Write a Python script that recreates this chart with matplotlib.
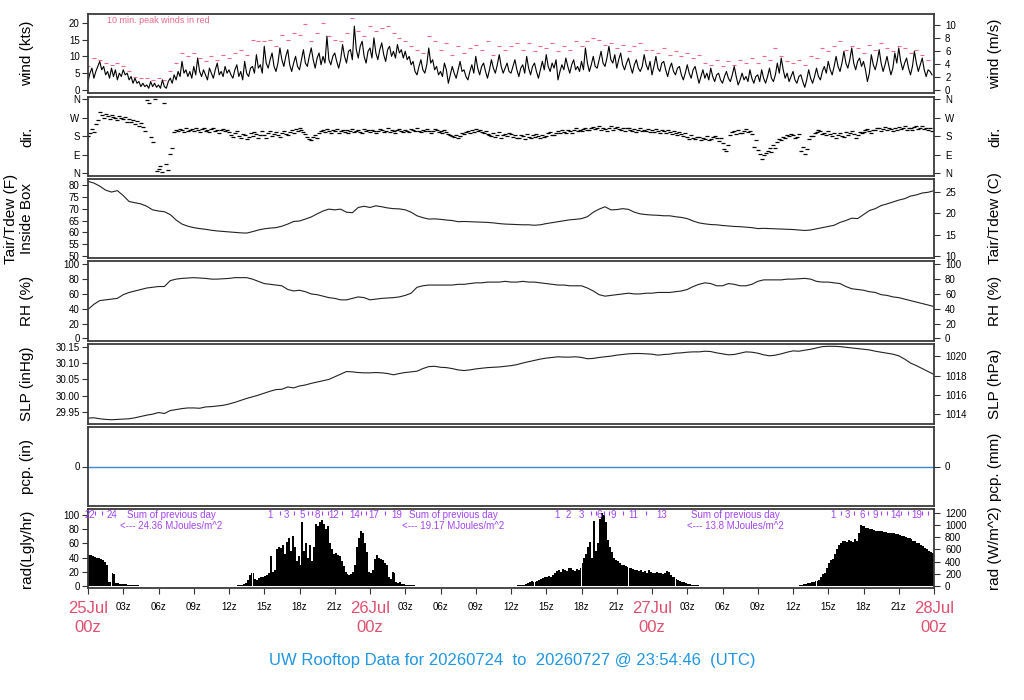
import numpy as np
import matplotlib
matplotlib.use('Agg')
import matplotlib.pyplot as plt

plt.rcParams['font.family'] = ['Liberation Sans', 'DejaVu Sans']

# ---------------- data (hours since 25 Jul 00z) ----------------
wind_step_h = 1.0 / 6.0
wind_kts = [
    2.5, 5.0, 6.5, 3.5, 5.5, 7.0, 8.5, 6.0, 7.0, 4.5, 5.5, 3.5, 6.5, 4.0, 6.0, 3.0, 5.0, 4.0,
    6.0, 4.5, 5.0, 3.0, 4.0, 2.0, 3.5, 2.0, 2.5, 1.0, 2.0, 1.0, 1.5, 0.5, 2.5, 1.0, 2.0, 0.8,
    1.5, 0.5, 3.0, 1.0, 0.5, 2.5, 3.5, 2.0, 4.5, 3.0, 5.5, 4.0, 8.5, 5.0, 6.0, 4.0, 5.5, 3.5,
    7.0, 4.5, 9.5, 5.5, 4.0, 6.0, 4.5, 3.0, 6.5, 5.0, 3.5, 6.0, 8.0, 4.5, 5.5, 4.0, 7.0, 5.0,
    6.0, 4.5, 3.5, 6.0, 7.5, 4.0, 5.5, 3.0, 8.5, 5.0, 4.0, 6.5, 7.0, 5.0, 10.5, 6.5, 7.5, 5.0,
    13.0, 8.0, 6.5, 9.0, 11.0, 7.0, 5.5, 8.0, 12.5, 9.0, 7.0, 10.0, 12.0, 7.5, 5.5, 8.0, 10.0, 7.0,
    6.0, 9.0, 12.0, 8.0, 7.0, 10.0, 12.5, 9.0, 6.5, 9.5, 11.0, 7.5, 10.0, 8.0, 16.0, 9.0, 7.5, 10.0,
    11.0, 8.5, 6.5, 9.0, 13.5, 10.0, 8.0, 11.5, 12.0, 9.0, 19.0, 12.0, 9.5, 13.0, 14.5, 10.0, 8.0, 11.5,
    12.5, 9.5, 15.5, 11.0, 9.0, 12.0, 14.0, 10.5, 8.5, 12.0, 13.0, 10.0, 11.5, 9.5, 13.5, 11.0, 12.0, 9.5,
    11.5, 9.0, 10.0, 7.5, 8.5, 5.5, 4.5, 7.0, 9.0, 6.0, 5.0, 7.5, 12.5, 8.0, 9.0, 6.0, 7.0, 4.5,
    5.5, 4.0, 8.0, 6.0, 2.0, 4.5, 7.0, 5.0, 3.5, 6.0, 8.5, 5.5, 6.0, 4.0, 3.0, 5.5, 7.5, 5.0,
    10.0, 6.5, 4.5, 7.0, 8.0, 5.5, 3.5, 6.0, 9.0, 6.5, 5.0, 7.5, 10.5, 7.0, 5.0, 6.5, 8.0, 5.5,
    5.0, 7.0, 9.0, 6.0, 4.0, 6.5, 7.5, 5.0, 10.0, 6.5, 4.5, 7.0, 8.0, 5.5, 3.5, 6.0, 8.5, 6.0,
    10.5, 7.0, 5.5, 8.0, 6.5, 9.0, 3.0, 5.5, 7.5, 6.0, 9.5, 7.0, 5.0, 7.5, 9.0, 6.0, 7.0, 5.5,
    8.5, 6.0, 12.5, 8.0, 5.5, 7.5, 10.0, 7.0, 6.5, 9.0, 11.5, 8.0, 7.0, 9.5, 13.0, 9.0, 8.0, 10.5,
    6.5, 9.0, 11.0, 7.5, 6.0, 8.0, 9.5, 7.0, 5.0, 7.5, 9.0, 6.5, 5.5, 7.0, 10.5, 7.5, 6.0, 8.5,
    4.5, 7.0, 10.0, 6.5, 5.5, 8.0, 8.5, 6.0, 4.0, 6.5, 8.0, 5.5, 4.5, 6.5, 7.0, 4.5, 3.0, 5.0,
    7.5, 5.0, 3.5, 6.0, 7.0, 4.5, 2.0, 4.0, 6.0, 3.5, 5.0, 3.0, 6.5, 4.0, 2.5, 4.5, 5.0, 3.0,
    2.0, 4.0, 5.5, 3.5, 2.5, 4.5, 7.0, 4.0, 1.5, 3.0, 5.0, 3.0, 4.0, 2.5, 6.0, 3.5, 2.0, 4.0,
    4.5, 2.5, 6.0, 3.5, 2.0, 4.0, 6.5, 3.5, 2.5, 4.5, 8.0, 5.0, 9.5, 6.0, 3.5, 5.0, 2.5, 4.0,
    5.5, 3.0, 2.0, 4.0, 4.5, 2.5, 0.8, 3.0, 6.0, 3.5, 2.0, 4.0, 6.5, 4.0, 3.0, 5.5, 7.0, 5.0,
    8.5, 6.0, 4.5, 7.0, 10.0, 7.0, 5.5, 8.0, 11.5, 8.0, 6.5, 9.0, 12.5, 8.0, 6.0, 8.5, 9.5, 7.0,
    8.5, 6.0, 2.5, 5.0, 10.5, 7.5, 6.0, 8.5, 12.0, 8.0, 5.5, 7.5, 10.0, 7.0, 4.5, 6.5, 11.0, 8.0,
    12.5, 8.5, 6.0, 8.0, 9.5, 6.5, 4.5, 7.0, 11.5, 8.0, 5.5, 7.5, 9.5, 6.0, 4.0, 6.0, 5.5, 4.5,
]

gust_step_h = 0.5
gust_kts = [
    7, 9.5, 9, 8, 7.5, 8,
    7, 5.5, 4, 3.5, 3.5, 3,
    3.5, 3, 5.5, 8, 11, 10,
    11, 9.5, 8.5, 10, 9, 10.5,
    9.5, 11, 12, 10.5, 15, 14.5,
    14.5, 15, 13, 16.5, 15, 17,
    16.5, 19.5, 14.5, 17, 20, 16,
    15, 14.5, 17, 21.5, 17.5, 16,
    19, 17.5, 18.5, 19, 17, 15.5,
    14.5, 13, 12, 11, 16, 14.5,
    12, 14, 10.5, 13, 11, 12.5,
    13.5, 12, 14.5, 10.5, 13, 12,
    13, 14, 12, 14, 11.5, 13,
    12.5, 14, 11.5, 13, 12, 14.5,
    13, 14.5, 15.5, 15, 13.5, 14,
    12.5, 13.5, 11.5, 13, 14, 12,
    12, 11, 12.5, 10.5, 11.5, 10,
    11, 9.5, 10.5, 8, 7.5, 9,
    7, 8.5, 7.5, 9, 8, 9.5,
    8, 10, 9, 12.5, 10, 8.5,
    8, 9, 7.5, 10, 9.5, 12.5,
    11.5, 13, 14.5, 12, 13, 12.5,
    11, 13.5, 12, 14, 12.5, 11.5,
    13, 12.5, 11, 12, 10.5, 9,
]

dir_step_h = 1.0 / 6.0
dir_deg = [
    180, 195, 215, 200, 240, 260, 300, 285, 270, 290, 280, 265, 285, 275, 270, 260, 280, 268,
    262, 275, 250, 265, 248, 258, 240, 255, 230, 245, 225, 205, 355, 340, 175, 150, 360, 10,
    20, 35, 5, 340, 45, 15, 95, 125, 200, 210, 205, 215, 212, 200, 218, 208, 210, 215,
    205, 218, 212, 200, 215, 222, 208, 210, 203, 215, 220, 205, 212, 198, 210, 216, 204, 212,
    200, 185, 175, 195, 205, 180, 170, 190, 185, 165, 175, 195, 180, 200, 190, 172, 185, 205,
    188, 170, 195, 205, 180, 190, 200, 185, 175, 195, 205, 190, 185, 200, 210, 195, 215, 205,
    220, 210, 200, 190, 175, 165, 160, 175, 185, 170, 195, 205, 210, 200, 215, 205, 195, 210,
    208, 215, 198, 205, 212, 200, 210, 195, 205, 215, 200, 208, 212, 202, 198, 215, 205, 210,
    202, 212, 208, 198, 205, 215, 210, 200, 208, 218, 202, 212, 205, 195, 210, 215, 205, 200,
    212, 205, 200, 215, 210, 205, 218, 208, 200, 212, 205, 215, 208, 198, 205, 215, 210, 202,
    205, 195, 210, 200, 192, 185, 180, 175, 188, 170, 180, 195, 190, 200, 205, 195, 210, 200,
    215, 205, 210, 200, 195, 205, 190, 185, 180, 195, 175, 185, 200, 170, 185, 190, 180, 195,
    190, 178, 185, 170, 172, 185, 180, 168, 190, 178, 170, 185, 175, 190, 180, 170, 188, 178,
    182, 195, 200, 188, 185, 195, 205, 195, 210, 200, 195, 212, 205, 198, 210, 220, 205, 212,
    205, 215, 222, 212, 210, 218, 225, 215, 218, 228, 210, 220, 215, 205, 222, 230, 212, 218,
    225, 215, 210, 220, 205, 218, 222, 212, 208, 215, 200, 210, 218, 205, 212, 208, 215, 200,
    210, 200, 215, 205, 195, 212, 205, 198, 210, 200, 190, 205, 195, 185, 200, 190, 180, 195,
    178, 168, 185, 172, 165, 178, 175, 160, 172, 168, 180, 160, 165, 178, 182, 170, 158, 172,
    145, 120, 110, 140, 185, 200, 205, 190, 210, 198, 195, 205, 215, 200, 205, 190, 130, 160,
    115, 95, 70, 90, 100, 110, 125, 105, 140, 125, 150, 165, 160, 175, 170, 185, 180, 190,
    185, 170, 175, 190, 110, 130, 95, 120, 165, 180, 180, 195, 200, 210, 205, 190, 198, 185,
    205, 190, 180, 195, 170, 185, 195, 180, 175, 200, 185, 195, 205, 190, 170, 185, 200, 195,
    200, 210, 215, 205, 195, 212, 210, 222, 218, 205, 215, 225, 210, 220, 215, 205, 222, 212,
    225, 215, 220, 230, 212, 222, 218, 210, 225, 232, 215, 220, 228, 215, 222, 210, 218, 205,
]

halfhour_step_h = 0.5
temp_f = [
    81.5, 80.8, 79.5, 77.8, 77.0, 77.6, 75.5, 73.0, 72.5, 72.0,
    71.0, 69.5, 69.0, 68.7, 67.5, 65.2, 63.5, 62.6, 62.0, 61.6,
    61.3, 60.9, 60.6, 60.4, 60.2, 60.0, 59.8, 59.7, 60.3, 61.0,
    61.5, 61.8, 62.0, 62.6, 63.5, 64.6, 64.8, 65.6, 66.5, 67.8,
    69.0, 69.8, 69.5, 69.8, 68.5, 68.3, 70.5, 71.0, 70.5, 71.2,
    70.8, 70.3, 70.0, 69.9, 69.5, 68.5, 67.0, 66.2, 65.6, 65.7,
    65.5, 65.2, 65.0, 64.5, 64.6, 64.5, 64.4, 64.3, 64.2, 64.0,
    63.7, 63.5, 63.4, 63.3, 63.2, 63.2, 63.0, 63.2, 63.7, 64.1,
    64.5, 64.9, 65.3, 65.5, 65.8, 66.6, 68.5, 69.8, 70.8, 69.5,
    69.6, 70.0, 69.7, 68.5, 67.8, 67.5, 67.3, 67.2, 67.0, 67.0,
    66.6, 66.3, 65.8, 64.8, 64.0, 63.6, 63.3, 63.2, 62.9, 62.7,
    62.5, 62.4, 62.2, 62.0, 61.6, 61.7, 61.6, 61.5, 61.4, 61.3,
    61.2, 61.0, 60.8, 61.0, 61.5, 62.0, 62.5, 63.0, 64.2, 65.0,
    66.0, 65.8, 67.5, 69.2, 70.0, 71.3, 72.0, 72.8, 73.6, 74.2,
    75.3, 75.8, 76.6, 76.9, 77.6,
]
rh_pct = [
    39, 46, 51, 52, 53, 54, 59, 62, 64, 66,
    68, 69, 70, 70, 78, 80, 81, 81.5, 82, 81.5,
    81, 80, 80, 80.5, 81, 82, 82, 82, 80, 77,
    74, 73, 72, 71, 66, 64, 65, 63, 60, 59,
    57, 55, 54, 52, 52, 54, 56, 55, 52, 53,
    54, 54.5, 55, 56, 58, 61, 69, 71, 72, 72,
    72, 72, 72, 73, 73, 74, 75, 75, 76, 76,
    76, 77, 76, 76, 77, 76, 76, 75, 74, 73,
    72, 72, 71, 71, 71, 68, 64, 59, 57, 58,
    59, 60, 61, 60, 60, 61, 61, 62, 62, 62,
    63, 64, 66, 70, 73, 75, 74, 71, 71, 74,
    73, 71, 71, 73, 77, 79, 79, 79, 79, 80,
    80, 80.5, 81, 80, 77, 76, 76, 75, 74, 70,
    67, 66, 65, 63, 62, 59, 58, 56, 55, 53,
    51, 49, 47, 45, 43,
]
slp_inhg = [
    29.932, 29.933, 29.930, 29.928, 29.927, 29.928, 29.929, 29.930, 29.933, 29.937,
    29.941, 29.944, 29.949, 29.946, 29.955, 29.958, 29.961, 29.963, 29.963, 29.962,
    29.966, 29.967, 29.969, 29.971, 29.975, 29.980, 29.986, 29.992, 29.997, 30.002,
    30.008, 30.014, 30.019, 30.020, 30.027, 30.024, 30.030, 30.033, 30.038, 30.042,
    30.046, 30.050, 30.058, 30.066, 30.074, 30.073, 30.071, 30.070, 30.070, 30.071,
    30.070, 30.068, 30.064, 30.068, 30.071, 30.073, 30.075, 30.083, 30.089, 30.090,
    30.087, 30.086, 30.083, 30.079, 30.077, 30.079, 30.082, 30.084, 30.086, 30.087,
    30.088, 30.090, 30.092, 30.095, 30.100, 30.104, 30.108, 30.112, 30.115, 30.117,
    30.119, 30.118, 30.118, 30.119, 30.117, 30.113, 30.114, 30.117, 30.119, 30.121,
    30.124, 30.126, 30.128, 30.129, 30.129, 30.128, 30.127, 30.124, 30.126, 30.127,
    30.130, 30.131, 30.133, 30.134, 30.134, 30.136, 30.135, 30.131, 30.128, 30.125,
    30.126, 30.130, 30.134, 30.133, 30.130, 30.125, 30.122, 30.124, 30.128, 30.133,
    30.137, 30.136, 30.139, 30.142, 30.146, 30.150, 30.151, 30.151, 30.150, 30.148,
    30.146, 30.144, 30.142, 30.140, 30.136, 30.133, 30.130, 30.127, 30.122, 30.112,
    30.100, 30.092, 30.083, 30.074, 30.065,
]
pcp_hours = [0, 72]
pcp_in = [0.0, 0.0]

rad_step_h = 1.0 / 6.0
rad_ly = [
    44, 43, 42, 41, 40, 39, 38, 36, 34, 30, 6, 5, 18, 17, 4, 4, 3, 3,
    3, 2.5, 2, 2, 1.5, 1.2, 1, 0.8, 0.5, 0.3, 0, 0, 0, 0, 0, 0, 0, 0,
    0, 0, 0, 0, 0, 0, 0, 0, 0, 0, 0, 0, 0, 0, 0, 0, 0, 0,
    0, 0, 0, 0, 0, 0, 0, 0, 0, 0, 0, 0, 0, 0, 0, 0, 0, 0,
    0, 0, 0.5, 0.7, 1, 1.5, 2, 3, 4, 8, 16, 18, 19, 10, 9, 11, 12, 13,
    14, 16, 18, 42, 20, 22, 52, 55, 54, 58, 45, 62, 68, 50, 70, 55, 35, 42,
    30, 90, 50, 60, 40, 58, 35, 55, 87, 84, 90, 93, 88, 80, 85, 60, 52, 45,
    46, 44, 42, 35, 28, 20, 17, 16, 17, 20, 30, 55, 68, 78, 75, 60, 48, 20,
    18, 22, 38, 43, 40, 38, 36, 33, 30, 12, 10, 20, 18, 5, 4, 5, 3, 2.5,
    2, 1.5, 1.2, 1, 0.8, 0.5, 0.4, 0, 0, 0, 0, 0, 0, 0, 0, 0, 0, 0,
    0, 0, 0, 0, 0, 0, 0, 0, 0, 0, 0, 0, 0, 0, 0, 0, 0, 0,
    0, 0, 0, 0, 0, 0, 0, 0, 0, 0, 0, 0, 0, 0, 0, 0, 0, 0,
    0, 0, 0.5, 1, 1.5, 2, 2, 3, 4.5, 6, 6.5, 5.5, 6, 7, 8, 10, 11, 12,
    13, 14, 13, 16, 19, 21, 22, 20, 24, 23, 21, 25, 26, 22, 21, 24, 23, 26,
    33, 40, 45, 55, 62, 40, 92, 50, 60, 95, 103, 100, 90, 65, 55, 48, 40, 36,
    35, 33, 30, 29, 28, 27, 25, 26, 24, 23, 22, 21, 22, 20, 21, 19, 22, 20,
    19, 18, 20, 19, 18, 17, 19, 21, 20, 15, 13, 12, 10, 8, 7, 6, 5, 4,
    3, 2.5, 2, 1.5, 1.2, 1, 0.7, 0.5, 0.3, 0, 0, 0, 0, 0, 0, 0, 0, 0,
    0, 0, 0, 0, 0, 0, 0, 0, 0, 0, 0, 0, 0, 0, 0, 0, 0, 0,
    0, 0, 0, 0, 0, 0, 0, 0, 0, 0, 0, 0, 0, 0, 0, 0, 0, 0,
    0, 0, 0.5, 1, 2, 3, 3, 4, 4, 5, 6, 6.5, 7, 9, 12, 17, 18, 25,
    32, 36, 38, 45, 52, 58, 60, 63, 64, 62, 65, 63, 62, 66, 64, 75, 86, 85,
    84, 82, 82, 80, 81, 79, 78, 78, 77, 77, 76, 76, 75, 75, 74, 74, 73, 73,
    72, 71, 70, 69, 68, 67, 66, 64, 63, 61, 60, 58, 56, 54, 52, 50, 48, 46,
]

cum_label_hours = [0.15, 2.0, 15.5, 16.85, 18.2, 19.5, 20.9, 22.7, 24.3, 26.3,
                   39.9, 40.9, 42.0, 43.5, 44.7, 46.4, 48.8,
                   63.4, 64.6, 65.9, 67.0, 68.7, 70.5]
cum_label_text = ['22', '24', '1', '3', '5', '8', '12', '14', '17', '19',
                  '1', '2', '3', '6', '9', '11', '13',
                  '1', '3', '6', '9', '14', '19']
cum_tick_hours = [0.6, 1.2, 16.3, 17.5, 18.7, 19.1, 19.9, 20.4, 21.6, 23.2, 23.7, 25.3,
                  42.8, 43.2, 43.9, 44.3, 45.5, 47.5,
                  64.1, 65.2, 66.4, 67.5, 68.0, 69.2, 69.8, 71.0, 71.5]
sum_hours = [7.1, 31.1, 55.1]
sum_values = ['24.36', '19.17', '13.8']

day_hours = [0, 24, 48, 72]
day_labels = ['25Jul', '26Jul', '27Jul', '28Jul']
hour_ticks = list(range(0, 73, 3))

# ---------------- figure ----------------
W, H = 1024, 700
fig = plt.figure(figsize=(W / 100, H / 100), dpi=100)
left_px, right_px = 88, 934
panels_px = [(14, 93), (97, 176), (179, 258), (261, 341), (344, 424), (427, 506), (509, 588)]

PINK = '#ec6a88'
PURPLE = '#a444f4'
FRAME = '#3a3a3a'

axes = []
for (t, b) in panels_px:
    ax = fig.add_axes([left_px / W, 1 - b / H, (right_px - left_px) / W, (b - t) / H])
    ax.set_xlim(0, 72)
    for s in ax.spines.values():
        s.set_color(FRAME)
        s.set_linewidth(1.3)
    ax.tick_params(axis='y', direction='out', length=4, labelsize=7, pad=2, color='#333333')
    ax.tick_params(axis='x', bottom=False, labelbottom=False)
    axes.append(ax)

def twin(ax):
    a2 = ax.twinx()
    a2.tick_params(axis='y', direction='out', length=4, labelsize=7, pad=4, color='#333333')
    for s in a2.spines.values():
        s.set_visible(False)
    return a2

lx = (27 - left_px) / (right_px - left_px)
rx = (995 - left_px) / (right_px - left_px)
LBL = 11

def left_label(ax, text, x=lx, **kw):
    ax.set_ylabel(text, fontsize=LBL, **kw)
    ax.yaxis.label.set_verticalalignment('center')
    ax.yaxis.set_label_coords(x, 0.5)

def right_label(ax, text):
    ax.set_ylabel(text, fontsize=LBL)
    ax.yaxis.label.set_verticalalignment('center')
    ax.yaxis.set_label_coords(rx, 0.5)

# wind
ax = axes[0]
tw = np.arange(len(wind_kts)) * wind_step_h
tg = np.arange(len(gust_kts)) * gust_step_h
ax.plot(tg, gust_kts, linestyle='none', marker='_', markersize=3.5, mew=0.8, color=PINK)
ax.plot(tw, wind_kts, color='black', lw=0.8)
ax.set_ylim(-0.9, 22.6)
ax.set_yticks([0, 5, 10, 15, 20])
left_label(ax, 'wind (kts)')
ax.text(0.022, 0.92, '10 min. peak winds in red', transform=ax.transAxes, fontsize=6.5,
        color=PINK, ha='left', va='center')
a2 = twin(ax)
a2.set_ylim(-0.9 / 1.94384, 22.6 / 1.94384)
a2.set_yticks([0, 2, 4, 6, 8, 10])
right_label(a2, 'wind (m/s)')

# direction
ax = axes[1]
td = np.arange(len(dir_deg)) * dir_step_h
ax.plot(td, dir_deg, linestyle='none', marker='_', markersize=3.0, mew=0.9, color='black')
ax.set_ylim(-13, 371)
ax.set_yticks([0, 90, 180, 270, 360])
ax.set_yticklabels(['N', 'E', 'S', 'W', 'N'])
left_label(ax, 'dir.')
a2 = twin(ax)
a2.set_ylim(-13, 371)
a2.set_yticks([0, 90, 180, 270, 360])
a2.set_yticklabels(['N', 'E', 'S', 'W', 'N'])
right_label(a2, 'dir.')

# temperature
ax = axes[2]
th = np.arange(len(temp_f)) * halfhour_step_h
ax.plot(th, temp_f, color='#222222', lw=0.8)
ax.set_ylim(49.2, 82.5)
ax.set_yticks([50, 55, 60, 65, 70, 75, 80])
left_label(ax, 'Tair/Tdew (F)\nInside Box', x=(19 - left_px) / (right_px - left_px), linespacing=1.25)
a2 = twin(ax)
a2.set_ylim((49.2 - 32) / 1.8, (82.5 - 32) / 1.8)
a2.set_yticks([10, 15, 20, 25])
right_label(a2, 'Tair/Tdew (C)')

# RH
ax = axes[3]
ax.plot(np.arange(len(rh_pct)) * halfhour_step_h, rh_pct, color='#222222', lw=0.8)
ax.set_ylim(-3.6, 104.5)
ax.set_yticks([0, 20, 40, 60, 80, 100])
left_label(ax, 'RH (%)')
a2 = twin(ax)
a2.set_ylim(-3.6, 104.5)
a2.set_yticks([0, 20, 40, 60, 80, 100])
right_label(a2, 'RH (%)')

# SLP
ax = axes[4]
ax.plot(np.arange(len(slp_inhg)) * halfhour_step_h, slp_inhg, color='#222222', lw=0.8)
ax.set_ylim(29.914, 30.158)
ax.set_yticks([29.95, 30.00, 30.05, 30.10, 30.15])
ax.set_yticklabels(['29.95', '30.00', '30.05', '30.10', '30.15'])
left_label(ax, 'SLP (inHg)')
a2 = twin(ax)
a2.set_ylim(29.914 * 33.8639, 30.158 * 33.8639)
a2.set_yticks([1014, 1016, 1018, 1020])
right_label(a2, 'SLP (hPa)')

# precipitation
ax = axes[5]
ax.plot(pcp_hours, pcp_in, color='#3d85d6', lw=1.0)
ax.set_ylim(-1, 1)
ax.set_yticks([0])
left_label(ax, 'pcp. (in)')
a2 = twin(ax)
a2.set_ylim(-25.4, 25.4)
a2.set_yticks([0])
right_label(a2, 'pcp. (mm)')

# radiation
ax = axes[6]
tr = np.arange(len(rad_ly)) * rad_step_h
ax.bar(tr, rad_ly, width=rad_step_h, align='edge', color='black', linewidth=0)
ax.set_ylim(-2.8, 108.5)
ax.set_yticks([0, 20, 40, 60, 80, 100])
left_label(ax, 'rad(Lgly/hr)')
ax.tick_params(axis='x', bottom=True, labelbottom=True, direction='out', length=4,
               labelsize=7, pad=6, color='#333333')
ax.set_xticks(hour_ticks)
ax.set_xticklabels(['' if h % 24 == 0 else '%02dz' % (h % 24) for h in hour_ticks])
ax.set_xlim(0, 72)
xt = ax.get_xaxis_transform()
for h, lab in zip(day_hours, day_labels):
    ax.text(h, -0.26, lab, transform=xt, ha='center', va='center', fontsize=12, color='#e0506e')
    ax.text(h, -0.50, '00z', transform=xt, ha='center', va='center', fontsize=12, color='#e0506e')
for h, lab in zip(cum_label_hours, cum_label_text):
    ax.text(h, 0.925, lab, transform=xt, ha='center', va='center', fontsize=7, color=PURPLE)
ax.plot(cum_tick_hours, [0.95] * len(cum_tick_hours), transform=xt, linestyle='none',
        marker='|', markersize=3, mew=0.8, color=PURPLE, clip_on=False)
for h, v in zip(sum_hours, sum_values):
    ax.text(h, 0.925, 'Sum of previous day', transform=xt, ha='center', va='center',
            fontsize=7, color=PURPLE)
    ax.text(h, 0.785, '<--- %s MJoules/m^2' % v, transform=xt, ha='center', va='center',
            fontsize=7, color=PURPLE)
a2 = twin(ax)
a2.set_ylim(-2.8 * 11.63, 108.5 * 11.63)
a2.set_yticks([0, 200, 400, 600, 800, 1000, 1200])
right_label(a2, 'rad (W/m^2)')

fig.text(0.5, 1 - 660 / H, 'UW Rooftop Data for 20260724  to  20260727 @ 23:54:46  (UTC)',
         ha='center', va='center', fontsize=12, color='#2196e3')

fig.savefig('out.png', dpi=100)
